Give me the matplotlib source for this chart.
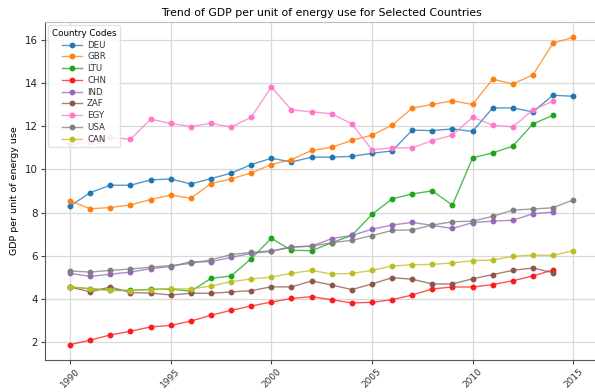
import matplotlib
matplotlib.use("Agg")
import matplotlib.pyplot as plt
from matplotlib.colors import to_rgba

years = list(range(1990, 2016))

deu = [8.31, 8.93, 9.27, 9.27, 9.52, 9.56, 9.33, 9.58, 9.83, 10.23, 10.52, 10.35, 10.57,
       10.57, 10.61, 10.75, 10.86, 11.82, 11.80, 11.88, 11.76, 12.85, 12.85, 12.67, 13.44, 13.39]
gbr = [8.55, 8.18, 8.24, 8.36, 8.61, 8.82, 8.67, 9.35, 9.56, 9.84, 10.23, 10.46, 10.88,
       11.03, 11.35, 11.59, 12.05, 12.84, 13.01, 13.18, 13.01, 14.18, 13.96, 14.38, 15.85, 16.12]
ltu = [4.56, 4.48, 4.42, 4.40, 4.45, 4.47, 4.36, 4.96, 5.07, 5.87, 6.81, 6.26, 6.24,
       6.61, 6.95, 7.92, 8.64, 8.87, 9.01, 8.35, 10.54, 10.77, 11.08, 12.11, 12.51]
chn = [1.89, 2.10, 2.34, 2.51, 2.71, 2.78, 2.98, 3.25, 3.48, 3.68, 3.86, 4.03, 4.11,
       3.97, 3.82, 3.85, 3.97, 4.19, 4.47, 4.56, 4.56, 4.67, 4.85, 5.07, 5.35]
ind = [5.19, 5.05, 5.15, 5.25, 5.41, 5.50, 5.73, 5.73, 5.93, 6.12, 6.21, 6.41, 6.45,
       6.80, 6.95, 7.23, 7.43, 7.55, 7.41, 7.27, 7.54, 7.61, 7.65, 7.95, 8.03]
zaf = [4.56, 4.33, 4.56, 4.30, 4.28, 4.19, 4.27, 4.27, 4.33, 4.39, 4.57, 4.56, 4.84,
       4.65, 4.44, 4.70, 4.99, 4.92, 4.70, 4.70, 4.94, 5.13, 5.33, 5.44, 5.22]
egy = [11.17, 11.28, 11.49, 11.40, 12.33, 12.13, 11.99, 12.14, 11.96, 12.42, 13.82, 12.76, 12.67,
       12.58, 12.11, 10.91, 11.00, 11.00, 11.34, 11.59, 12.42, 12.05, 11.97, 12.76, 13.16]
usa = [5.30, 5.25, 5.33, 5.39, 5.48, 5.55, 5.65, 5.82, 6.06, 6.16, 6.23, 6.41, 6.45,
       6.61, 6.72, 6.94, 7.18, 7.20, 7.43, 7.58, 7.61, 7.83, 8.12, 8.17, 8.23, 8.59]
can = [4.56, 4.47, 4.40, 4.39, 4.44, 4.47, 4.47, 4.60, 4.81, 4.93, 5.02, 5.19, 5.33,
       5.16, 5.19, 5.33, 5.53, 5.59, 5.61, 5.67, 5.78, 5.81, 5.98, 6.04, 6.02, 6.24]

codes = ['DEU', 'GBR', 'LTU', 'CHN', 'IND', 'ZAF', 'EGY', 'USA', 'CAN']
series = [deu, gbr, ltu, chn, ind, zaf, egy, usa, can]
colors = ['#1f77b4', '#ff7f0e', '#1aa51a', '#ff1a1a', '#9467bd',
          '#8c564b', '#ff77c6', '#7f7f7f', '#bcbd22']

fig = plt.figure(figsize=(5.95, 3.92), dpi=100)
ax = fig.add_axes([0.0756, 0.0816, 0.93, 0.8624])

for code, vals, c in zip(codes, series, colors):
    ax.plot(years[:len(vals)], vals, color=to_rgba(c, 0.75), marker='o',
            markersize=3.2, markerfacecolor=c, markeredgecolor=c,
            linewidth=1.0, label=code)

ax.set_title('Trend of GDP per unit of energy use for Selected Countries', fontsize=7.8, pad=4)
ax.set_xlabel('Year', fontsize=7.5, labelpad=2)
ax.set_ylabel('GDP per unit of energy use', fontsize=6.8)
ax.set_xticks([1990, 1995, 2000, 2005, 2010, 2015])
ax.tick_params(axis='x', labelrotation=45, labelsize=6.5, length=3, pad=2, colors='#444444')
ax.tick_params(axis='y', labelsize=7.4, length=3, pad=2, colors='#444444')
for lab in ax.get_xticklabels():
    lab.set_color('#333333')
for lab in ax.get_yticklabels():
    lab.set_color('#222222')
ax.grid(True, color='#d9d9d9', linewidth=0.9)
ax.set_axisbelow(True)
for side in ['left', 'bottom']:
    ax.spines[side].set_color('#555555')
for side in ['top', 'right']:
    ax.spines[side].set_color('#bbbbbb')

leg = ax.legend(title='Country Codes', loc='upper left', fontsize=6.2, title_fontsize=6.3,
                frameon=True, handlelength=2.3, handletextpad=0.6, labelspacing=0.32,
                borderpad=0.4, bbox_to_anchor=(0.0, 1.0), borderaxespad=0.4)
leg.get_frame().set_edgecolor('#dddddd')
leg.get_frame().set_alpha(0.85)
for t in leg.get_texts():
    t.set_color('#333333')

fig.savefig('out.png', dpi=100)
